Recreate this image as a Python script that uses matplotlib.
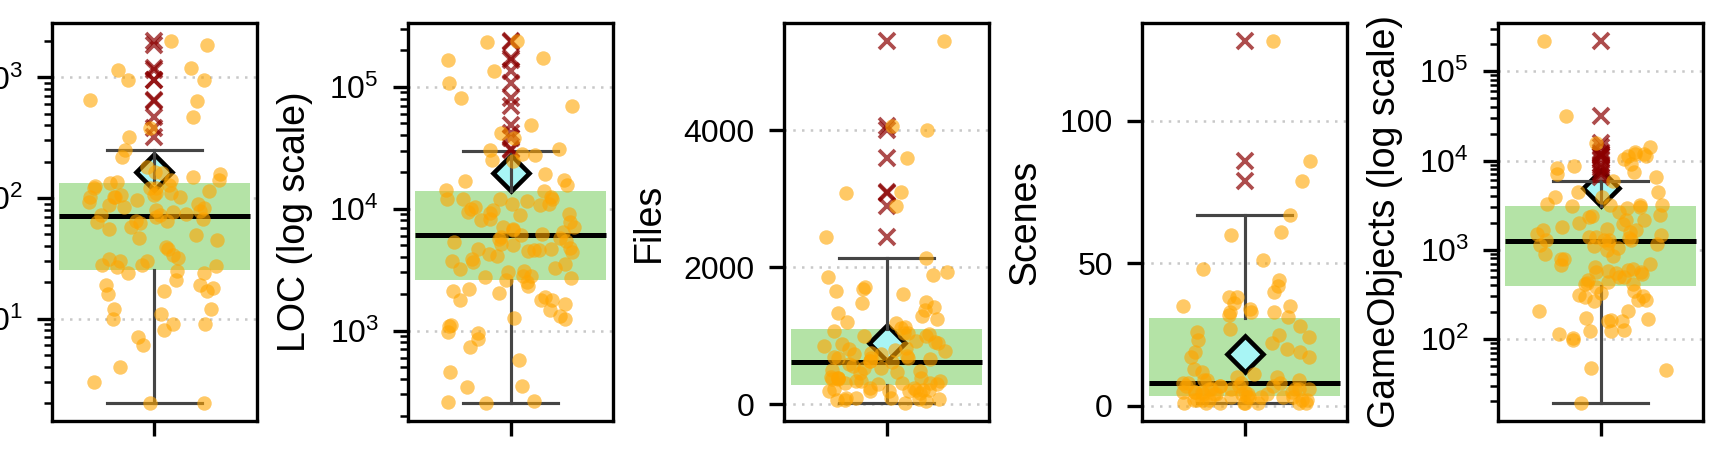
import numpy as np
import matplotlib
matplotlib.use("Agg")
import matplotlib.pyplot as plt
from matplotlib.ticker import FixedLocator

plt.rcParams['font.family'] = ['Liberation Sans', 'DejaVu Sans']
plt.rcParams['axes.linewidth'] = 0.8

# ---------------- data ----------------
labels = ["Commits (log scale)", "LOC (log scale)", "Files", "Scenes",
          "GameObjects (log scale)"]
log_scale = [True, True, False, False, True]

commits = [2000, 1840, 1200, 1160, 960, 960, 650, 640, 473, 378, 322, 250, 220,
           181, 165, 160, 157, 150, 142, 140, 135, 132, 128, 125, 121, 120, 120,
           115, 110, 109, 105, 105, 102, 102, 102, 102, 97, 93, 90, 87, 85, 82,
           80, 78, 76, 74, 72, 72, 70, 67, 65, 65, 63, 62, 58, 55, 49, 47, 45,
           39, 38, 34, 32, 31, 30, 30, 28, 28, 27.5, 27, 25, 24, 24, 21, 19, 19,
           18, 17, 17, 16, 12, 12, 11, 10, 9.1, 9, 8, 7, 6, 4, 3, 2, 2]

loc = [237000, 232000, 172000, 167000, 135000, 107000, 80700, 68900, 48600,
       41500, 37700, 30600, 30300, 28100, 27500, 25000, 24700, 19200, 17100,
       16800, 15600, 14200, 14000, 12500, 12100, 11900, 11900, 11900, 11500,
       11000, 11000, 10800, 10400, 10000, 9700, 9400, 9300, 9000, 8800, 8300,
       8000, 7770, 7060, 7060, 6800, 6630, 6420, 6220, 6030, 5840, 5770, 5590,
       5480, 5300, 5150, 5000, 4800, 4680, 4680, 4590, 4590, 4480, 4400, 4260,
       4070, 3870, 3750, 3630, 3500, 3260, 3200, 3100, 3010, 2820, 2820, 2770,
       2680, 2600, 2490, 2300, 2200, 2130, 2020, 1900, 1780, 1780, 1780, 1650,
       1470, 1320, 1260, 1240, 1110, 1090, 975, 963, 849, 733, 569, 459, 354,
       345, 263, 258, 255]

files = [5300, 4054, 4005, 3599, 3100, 3076, 2895, 2440, 2132, 1927, 1892,
         1863, 1716, 1682, 1658, 1609, 1486, 1471, 1413, 1374, 1330, 1291, 1242,
         1207, 1193, 1130, 1120, 1071, 1046, 1046, 1022, 998, 998, 924, 904, 900,
         876, 851, 826, 802, 787, 778, 753, 738, 729, 704, 689, 680, 680, 670,
         655, 631, 631, 621, 591, 557, 533, 523, 494, 484, 474, 460, 391, 386,
         386, 377, 362, 362, 337, 337, 337, 313, 313, 313, 289, 289, 240, 240,
         230, 215, 215, 215, 200, 191, 191, 191, 166, 98, 93, 93, 83, 73, 68, 68,
         44, 20]

scenes = [128, 86, 79, 67, 61, 60, 51, 48, 44, 42, 40, 38, 38, 36, 35, 35, 34,
          33, 33, 33, 32, 31, 28, 27, 26, 25, 24, 23, 22, 20, 19, 19, 17, 17, 13,
          12, 11, 10, 10, 9, 9, 9, 8, 8, 8, 8, 7, 7, 7, 7, 7, 6, 6, 6, 6, 6, 6,
          5, 5, 5, 5, 5, 5, 4, 4, 4, 4, 4, 4, 3, 3, 3, 3, 3, 3, 2, 2, 2, 2, 2, 2,
          1, 1, 1, 1, 1, 1, 1, 1]

gameobjects = [218000, 31800, 15900, 14000, 12600, 11800, 11800, 11100, 11100,
               10500, 9140, 8770, 8180, 7500, 7060, 6500, 5890, 4470, 4470, 3920,
               3920, 3260, 3160, 3160, 3160, 3100, 3000, 2900, 2660, 2440, 2380,
               2300, 2140, 2140, 2000, 1960, 1800, 1700, 1650, 1650, 1580, 1510,
               1450, 1390, 1390, 1360, 1300, 1270, 1270, 1270, 1200, 1150, 1120,
               1100, 1050, 1000, 900, 850, 793, 793, 695, 666, 638, 611, 600, 575,
               560, 560, 546, 537, 500, 492, 459, 440, 421, 414, 414, 380, 348,
               325, 311, 306, 293, 274, 274, 264, 208, 208, 171, 168, 163, 157,
               157, 126, 123, 123, 113, 102, 97, 47.7, 44.5, 19.2]

series = [commits, loc, files, scenes, gameobjects]

# box statistics
whislo = [2, 255, 20, 1, 19.2]
q1 = [25.3, 2620, 279, 3.5, 396]
med = [70.8, 6030, 621, 8, 1263]
q3 = [132, 14000, 1105, 30.7, 3077]
whishi = [250, 29900, 2132, 67, 5890]
means = [165, 19800, 900, 18, 4866]

files_ticks = [0, 2000, 4000]
scenes_ticks = [0, 50, 100]
linear_ticks = {2: files_ticks, 3: scenes_ticks}

# ---------------- figure ----------------
W, H = 1729, 475
fig = plt.figure(figsize=(W / 300, H / 300), dpi=300)
lefts_px = [52, 408, 784, 1142, 1498]
ax_w_px, top_px, bot_px = 205, 23, 421

rng = np.random.default_rng(7)
TICK_FS, LABEL_FS = 7.7, 9

for i, vals in enumerate(series):
    ax = fig.add_axes([lefts_px[i] / W, (H - bot_px) / H, ax_w_px / W,
                       (bot_px - top_px) / H])
    if log_scale[i]:
        ax.set_yscale('log')
    ax.set_axisbelow(True)
    ax.yaxis.grid(True, which='major', linestyle=(0, (1, 2.5)),
                  color='#c8c8c8', linewidth=0.6)

    fl = [v for v in vals if v > whishi[i] or v < whislo[i]]
    st = [dict(whislo=whislo[i], q1=q1[i], med=med[i], q3=q3[i],
               whishi=whishi[i], fliers=fl, mean=means[i])]
    res = ax.bxp(st, positions=[0], widths=0.93, capwidths=0.465,
                 patch_artist=True, showmeans=True, meanline=False,
                 showfliers=True, manage_ticks=False,
                 boxprops=dict(facecolor='#b4e3a6', edgecolor='none',
                               linewidth=0),
                 medianprops=dict(color='black', linewidth=1.2),
                 whiskerprops=dict(color='#454545', linewidth=0.75),
                 capprops=dict(color='#454545', linewidth=0.75),
                 flierprops=dict(marker='x', markeredgecolor='darkred',
                                 alpha=0.7, markersize=3.8,
                                 markeredgewidth=0.9, linestyle='none'),
                 meanprops=dict(marker='D', markerfacecolor='#a8f5f5',
                                markeredgecolor='black', markersize=6.2,
                                markeredgewidth=1.1, linestyle='none'))
    for b in res['boxes']:
        b.set_zorder(1)
    for m in res['means']:
        m.set_zorder(1.5)
    for key in ('whiskers', 'caps', 'medians', 'fliers'):
        for a in res[key]:
            a.set_zorder(2)

    xj = rng.uniform(-0.32, 0.32, len(vals))
    ax.scatter(xj, vals, s=12, color='orange', alpha=0.6, linewidths=0,
               zorder=3)

    ax.set_xlim(-0.5, 0.5)
    ax.set_xticks([0])
    ax.set_xticklabels([''])
    if i in linear_ticks:
        ax.yaxis.set_major_locator(FixedLocator(linear_ticks[i]))
    ax.tick_params(axis='both', labelsize=TICK_FS)
    ax.set_ylabel(labels[i], fontsize=LABEL_FS)

fig.savefig('out.png', dpi=300)
